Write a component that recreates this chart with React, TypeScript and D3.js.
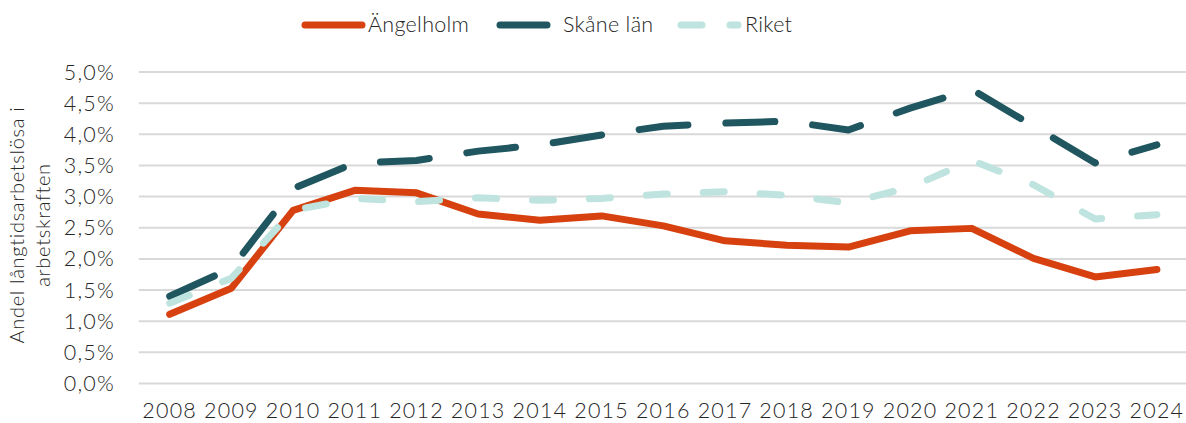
import React from "react";
import * as d3 from "d3";

const years = ["2008","2009","2010","2011","2012","2013","2014","2015","2016","2017","2018","2019","2020","2021","2022","2023","2024"];
const angelholm = [1.11,1.53,2.78,3.10,3.06,2.72,2.62,2.69,2.53,2.29,2.22,2.19,2.45,2.49,2.01,1.71,1.83];
const skane = [1.40,1.85,3.13,3.54,3.58,3.73,3.83,3.99,4.13,4.18,4.21,4.07,4.42,4.72,4.13,3.54,3.83];
const riket = [1.29,1.69,2.78,2.97,2.92,2.98,2.94,2.97,3.04,3.08,3.02,2.90,3.15,3.58,3.19,2.64,2.71];
const yTicks = [0,0.5,1,1.5,2,2.5,3,3.5,4,4.5,5];

const series = [
  { name: "Ängelholm", values: angelholm, color: "#D6410F", dash: "none" },
  { name: "Skåne län", values: skane, color: "#1F565F", dash: "49 38" },
  { name: "Riket", values: riket, color: "#BFE4DF", dash: "21 36" },
];

const W = 1186, H = 423;
const FONT = "Lato, 'Open Sans', sans-serif";

export default function App() {
  const x = d3.scaleBand<string>().domain(years).range([138.85, 138.85 + 17 * 61.7]);
  const cx = (y: string) => (x(y) as number) + x.bandwidth() / 2;
  const y = d3.scaleLinear().domain([0, 5]).range([383.5, 72]);
  const line = d3.line<number>().x((_, i) => cx(years[i])).y((v) => y(v));
  const fmt = (v: number) => v.toFixed(1).replace(".", ",") + "%";

  return (
    <svg width={W} height={H} style={{ position: "absolute", left: 0, top: 0, background: "#fff" }}>
      {yTicks.map((t) => (
        <g key={t}>
          <line x1={138.85} x2={W} y1={y(t)} y2={y(t)} stroke="#D9D9D9" strokeWidth={2} />
          <text x={115} y={y(t)} dy="0.35em" textAnchor="end" fontFamily={FONT} fontWeight={300} fontSize={21.5} letterSpacing={1.2} fill="#262626">
            {fmt(t)}
          </text>
        </g>
      ))}
      {years.map((yr) => (
        <text key={yr} x={cx(yr)} y={418} textAnchor="middle" fontFamily={FONT} fontWeight={300} fontSize={21.5} letterSpacing={1.2} fill="#262626">
          {yr}
        </text>
      ))}
      <text transform="translate(24,225) rotate(-90)" textAnchor="middle" fontFamily={FONT} fontWeight={300} fontSize={20} letterSpacing={0.7} fill="#262626">
        Andel långtidsarbetslösa i
      </text>
      <text transform="translate(50,225) rotate(-90)" textAnchor="middle" fontFamily={FONT} fontWeight={300} fontSize={20} letterSpacing={0.7} fill="#262626">
        arbetskraften
      </text>
      {series.map((s) => (
        <path key={s.name} d={line(s.values) || ""} fill="none" stroke={s.color} strokeWidth={7}
          strokeDasharray={s.dash === "none" ? undefined : s.dash} strokeLinecap="round" strokeLinejoin="round" />
      ))}
      {/* legend */}
      <g fontFamily={FONT} fontWeight={300} fontSize={21.5} letterSpacing={0.3} fill="#262626">
        <line x1={305} x2={362} y1={25} y2={25} stroke={series[0].color} strokeWidth={7} strokeLinecap="round" />
        <text x={368} y={32}>{series[0].name}</text>
        <line x1={500} x2={547} y1={25} y2={25} stroke={series[1].color} strokeWidth={7} strokeLinecap="round" />
        <text x={563} y={32}>{series[1].name}</text>
        <line x1={681} x2={702} y1={25} y2={25} stroke={series[2].color} strokeWidth={7} strokeLinecap="round" />
        <line x1={730} x2={738} y1={25} y2={25} stroke={series[2].color} strokeWidth={7} strokeLinecap="round" />
        <text x={745} y={32}>{series[2].name}</text>
      </g>
    </svg>
  );
}
